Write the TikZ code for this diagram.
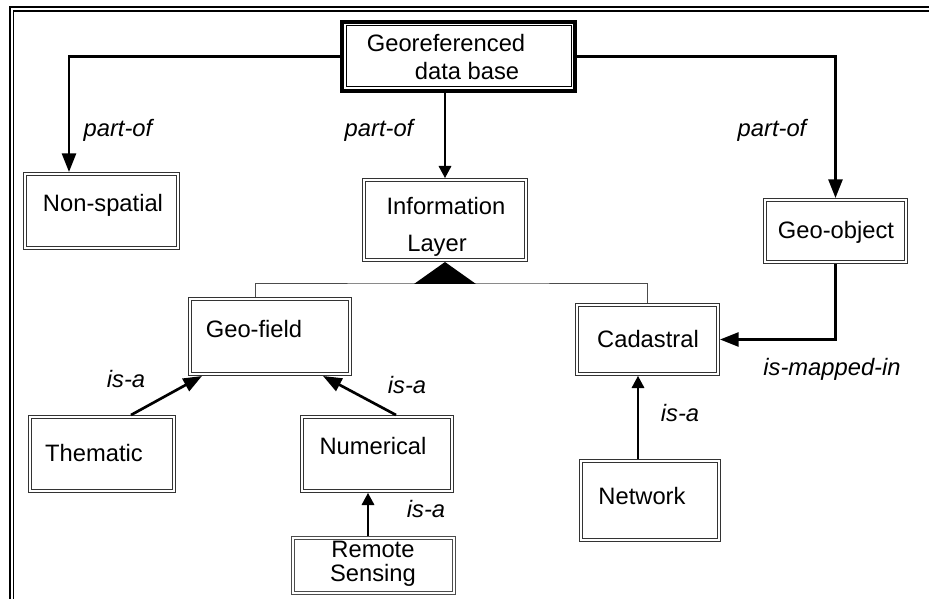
\documentclass[tikz,border=0pt]{standalone}
\usepackage{fontspec}
\setmainfont{Liberation Sans}
\usetikzlibrary{arrows.meta,calc}
\begin{document}
\begin{tikzpicture}[x=0.75pt,y=-0.75pt,
  box/.style={draw=black!80, double, double distance=1.6pt, line width=0.6pt, inner sep=0pt, outer sep=1.5pt},
  rbox/.style={draw=black!70, double, double distance=1.4pt, line width=0.9pt, inner sep=0pt, outer sep=1.5pt},
  tbox/.style={draw, line width=3pt, inner sep=0pt, outer sep=0pt},
  txt/.style={inner sep=0pt, font=\fontsize{17.8}{21}\selectfont},
  lbl/.style={inner sep=0pt, font=\fontsize{17.8}{21}\selectfont\itshape},
  heavy/.style={line width=2pt, -{Triangle[length=14pt,width=10.5pt]}},
  light/.style={line width=0.9pt, -{Triangle[length=9pt,width=9.5pt]}},
  hier/.style={line width=0.75pt, draw=black!70}]
\useasboundingbox (0,0) rectangle (929,599);
% outer frame
\draw[line width=1.9pt] (10,599) -- (10,7) -- (929,7);
\draw[line width=0.9pt] (13.5,599) -- (13.5,11) -- (929,11);
% boxes
\node[tbox, minimum width=174.75pt, minimum height=51.75pt] (geo) at (458.5,56.5) {};
\draw[line width=0.75pt] ($(geo.north west)+(4,4)$) rectangle ($(geo.south east)+(-4,-4)$);
\node[box, minimum width=114.75pt, minimum height=55.5pt] (nonsp) at (101.5,211) {};
\node[box, minimum width=121.5pt, minimum height=60pt] (info) at (445,220) {};
\node[box, minimum width=105.75pt, minimum height=46.5pt] (geoobj) at (835.5,231) {};
\node[box, minimum width=120pt, minimum height=56.25pt] (geofield) at (270,336.5) {};
\node[box, minimum width=105.75pt, minimum height=51.75pt] (cad) at (647.5,339.5) {};
\node[box, minimum width=108pt, minimum height=55.5pt] (them) at (102,454) {};
\node[box, minimum width=112.5pt, minimum height=55.5pt] (num) at (377,454) {};
\node[rbox, minimum width=120.75pt, minimum height=41.25pt] (remote) at (373.5,565.5) {};
\node[box, minimum width=103.5pt, minimum height=59.25pt] (net) at (650,500.5) {};
% texts in boxes
\node[txt] (geoT1) at (446,43) {Georeferenced};
\node[txt] (geoT2) at (467,71) {data base};
\node[txt] (nonspT) at (103,205) {Non-spatial};
\node[txt] (infoT1) at (446,206) {Information};
\node[txt] (infoT2) at (437,246) {Layer};
\node[txt] (geoobjT) at (836,232) {Geo-object};
\node[txt] (geofieldT) at (254,329) {Geo-field};
\node[txt] (cadT) at (648,339) {Cadastral};
\node[txt] (themT) at (94,453) {Thematic};
\node[txt] (numT) at (373,446) {Numerical};
\node[txt] (remT1) at (373,549) {Remote};
\node[txt] (remT2) at (373,575) {Sensing};
\node[txt] (netT) at (642,496) {Network};
% connectors
\draw[heavy] (geo.west) -| ($(nonsp.north west)+(46,0)$);
\draw[light] (info.north |- geo.south) -- (info.north);
\draw[heavy] (geo.east) -| (geoobj.north);
\coordinate (tb) at ($(info.south)+(0,22)$);
\draw[hier] ($(geofield.north)+(-15,0)$) |- (tb) -| (cad.north);
\fill (info.south) -- ($(tb)+(-31,0)$) -- ($(tb)+(31,0)$) -- cycle;
\draw[heavy] (geoobj.south) |- (cad.east);
\draw[heavy] ($(them.north west)+(103,0)$) -- ($(geofield.south west)+(14,0)$);
\draw[heavy] ($(num.north west)+(96,0)$) -- ($(geofield.south west)+(135,0)$);
\draw[light] ($(remote.north west)+(77,0)$) -- ($(num.south west)+(68,0)$);
\draw[light] ($(net.north west)+(59,0)$) -- ($(cad.south west)+(63,0)$);
% labels
\node[lbl] (po1) at (118,130) {part-of};
\node[lbl] (po2) at (379,130) {part-of};
\node[lbl] (po3) at (772,130) {part-of};
\node[lbl] (isa1) at (126,379) {is-a};
\node[lbl] (isa2) at (407,385) {is-a};
\node[lbl] (isa3) at (426,509) {is-a};
\node[lbl] (isa4) at (680,413) {is-a};
\node[lbl] (ismap) at (832,369) {is-mapped-in};
\end{tikzpicture}
\end{document}
